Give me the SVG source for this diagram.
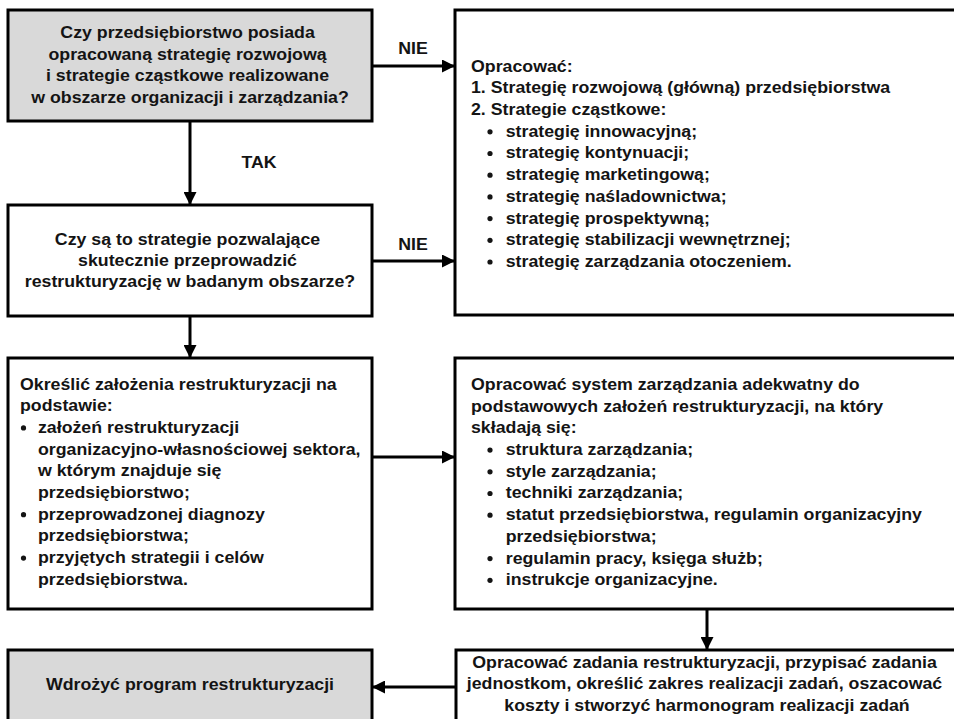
<svg xmlns="http://www.w3.org/2000/svg" width="954" height="719" viewBox="0 0 954 719">
  <style>
    .box { fill: #ffffff; stroke: #000000; stroke-width: 3; }
    .grey { fill: #d9d9d9; }
    .t { font-family: "Liberation Sans", Arial, sans-serif; font-weight: bold; font-size: 16px; fill: #141414; }
    .c { text-anchor: middle; }
    .link { stroke: #000000; stroke-width: 3; fill: none; marker-end: url(#head); }
    .dot { fill: #141414; }
  </style>
  <defs>
    <marker id="head" markerUnits="userSpaceOnUse" markerWidth="13" markerHeight="13" refX="12" refY="6.5" orient="auto">
      <path d="M0,0 L13,6.5 L0,13 z" fill="#000000"/>
    </marker>
  </defs>

  <rect width="954" height="719" fill="#ffffff"/>

  <!-- connectors -->
  <g id="connectors">
    <line class="link" x1="372" y1="66" x2="454" y2="66"/>
    <line class="link" x1="190" y1="121" x2="190" y2="204"/>
    <line class="link" x1="372" y1="261" x2="454" y2="261"/>
    <line class="link" x1="190" y1="316" x2="190" y2="357"/>
    <line class="link" x1="372" y1="457" x2="454" y2="457"/>
    <line class="link" x1="707" y1="609" x2="707" y2="649"/>
    <line class="link" x1="456" y1="687" x2="373" y2="687"/>
    <text class="t c" transform="translate(413,54) scale(1.11 1)">NIE</text>
    <text class="t c" transform="translate(413,250) scale(1.11 1)">NIE</text>
    <text class="t c" transform="translate(259,168) scale(1.11 1)">TAK</text>
  </g>

  <!-- question: strategy exists -->
  <g id="q-strategy">
    <rect class="box grey" x="8" y="10" width="364" height="111"/>
    <text class="t c" transform="translate(190,38) scale(1.11 1)">
      <tspan x="0" y="0">Czy przedsiębiorstwo posiada</tspan>
      <tspan x="0" y="21.7">opracowaną strategię rozwojową</tspan>
      <tspan x="0" y="43.4">i strategie cząstkowe realizowane</tspan>
      <tspan x="0" y="65.1">w obszarze organizacji i zarządzania?</tspan>
    </text>
  </g>

  <!-- develop strategies -->
  <g id="develop-strategies">
    <rect class="box" x="455" y="10" width="503" height="305"/>
    <text class="t" transform="translate(471,71.7) scale(1.11 1)">
      <tspan x="0" y="0">Opracować:</tspan>
      <tspan x="0" y="21.7">1. Strategię rozwojową (główną) przedsiębiorstwa</tspan>
      <tspan x="0" y="43.4">2. Strategie cząstkowe:</tspan>
      <tspan x="31.3" y="65.1">strategię innowacyjną;</tspan>
      <tspan x="31.3" y="86.8">strategię kontynuacji;</tspan>
      <tspan x="31.3" y="108.5">strategię marketingową;</tspan>
      <tspan x="31.3" y="130.2">strategię naśladownictwa;</tspan>
      <tspan x="31.3" y="151.9">strategię prospektywną;</tspan>
      <tspan x="31.3" y="173.6">strategię stabilizacji wewnętrznej;</tspan>
      <tspan x="31.3" y="195.3">strategię zarządzania otoczeniem.</tspan>
    </text>
    <circle class="dot" cx="490" cy="131.8" r="2.6"/>
    <circle class="dot" cx="490" cy="153.5" r="2.6"/>
    <circle class="dot" cx="490" cy="175.2" r="2.6"/>
    <circle class="dot" cx="490" cy="196.9" r="2.6"/>
    <circle class="dot" cx="490" cy="218.6" r="2.6"/>
    <circle class="dot" cx="490" cy="240.3" r="2.6"/>
    <circle class="dot" cx="490" cy="262.0" r="2.6"/>
  </g>

  <!-- question: strategies sufficient -->
  <g id="q-sufficient">
    <rect class="box" x="8" y="205" width="364" height="111"/>
    <text class="t c" transform="translate(190,244.5) scale(1.11 1)">
      <tspan x="0" y="0">Czy są to strategie pozwalające</tspan>
      <tspan x="0" y="21.5">skutecznie przeprowadzić</tspan>
      <tspan x="0" y="43">restrukturyzację w badanym obszarze?</tspan>
    </text>
  </g>

  <!-- restructuring assumptions -->
  <g id="assumptions">
    <rect class="box" x="8" y="358" width="364" height="251"/>
    <text class="t" transform="translate(20,389.5) scale(1.11 1)">
      <tspan x="0" y="0">Określić założenia restrukturyzacji na</tspan>
      <tspan x="0" y="21.7">podstawie:</tspan>
      <tspan x="16.2" y="43.4">założeń restrukturyzacji</tspan>
      <tspan x="16.2" y="65.1">organizacyjno-własnościowej sektora,</tspan>
      <tspan x="16.2" y="86.8">w którym znajduje się</tspan>
      <tspan x="16.2" y="108.5">przedsiębiorstwo;</tspan>
      <tspan x="16.2" y="130.2">przeprowadzonej diagnozy</tspan>
      <tspan x="16.2" y="151.9">przedsiębiorstwa;</tspan>
      <tspan x="16.2" y="173.6">przyjętych strategii i celów</tspan>
      <tspan x="16.2" y="195.3">przedsiębiorstwa.</tspan>
    </text>
    <circle class="dot" cx="23.5" cy="427.9" r="2.6"/>
    <circle class="dot" cx="23.5" cy="514.7" r="2.6"/>
    <circle class="dot" cx="23.5" cy="558.1" r="2.6"/>
  </g>

  <!-- management system -->
  <g id="management-system">
    <rect class="box" x="455" y="358" width="503" height="251"/>
    <text class="t" transform="translate(471,390) scale(1.11 1)">
      <tspan x="0" y="0">Opracować system zarządzania adekwatny do</tspan>
      <tspan x="0" y="21.7">podstawowych założeń restrukturyzacji, na który</tspan>
      <tspan x="0" y="43.4">składają się:</tspan>
      <tspan x="31.3" y="65.1">struktura zarządzania;</tspan>
      <tspan x="31.3" y="86.8">style zarządzania;</tspan>
      <tspan x="31.3" y="108.5">techniki zarządzania;</tspan>
      <tspan x="31.3" y="130.2">statut przedsiębiorstwa, regulamin organizacyjny</tspan>
      <tspan x="31.3" y="151.9">przedsiębiorstwa;</tspan>
      <tspan x="31.3" y="173.6">regulamin pracy, księga służb;</tspan>
      <tspan x="31.3" y="195.3">instrukcje organizacyjne.</tspan>
    </text>
    <circle class="dot" cx="490" cy="450.1" r="2.6"/>
    <circle class="dot" cx="490" cy="471.8" r="2.6"/>
    <circle class="dot" cx="490" cy="493.5" r="2.6"/>
    <circle class="dot" cx="490" cy="515.2" r="2.6"/>
    <circle class="dot" cx="490" cy="558.6" r="2.6"/>
    <circle class="dot" cx="490" cy="580.3" r="2.6"/>
  </g>

  <!-- tasks and schedule -->
  <g id="tasks">
    <rect class="box" x="456" y="650" width="502" height="80"/>
    <text class="t c" transform="translate(707,667.7) scale(1.11 1)">
      <tspan x="0" y="0">Opracować zadania restrukturyzacji, przypisać zadania</tspan>
      <tspan x="0" y="21.5">jednostkom, określić zakres realizacji zadań, oszacować</tspan>
      <tspan x="0" y="43">koszty i stworzyć harmonogram realizacji zadań</tspan>
    </text>
  </g>

  <!-- implement programme -->
  <g id="implement">
    <rect class="box grey" x="8" y="650" width="364" height="80"/>
    <text class="t c" transform="translate(190,690) scale(1.11 1)">Wdrożyć program restrukturyzacji</text>
  </g>
</svg>
